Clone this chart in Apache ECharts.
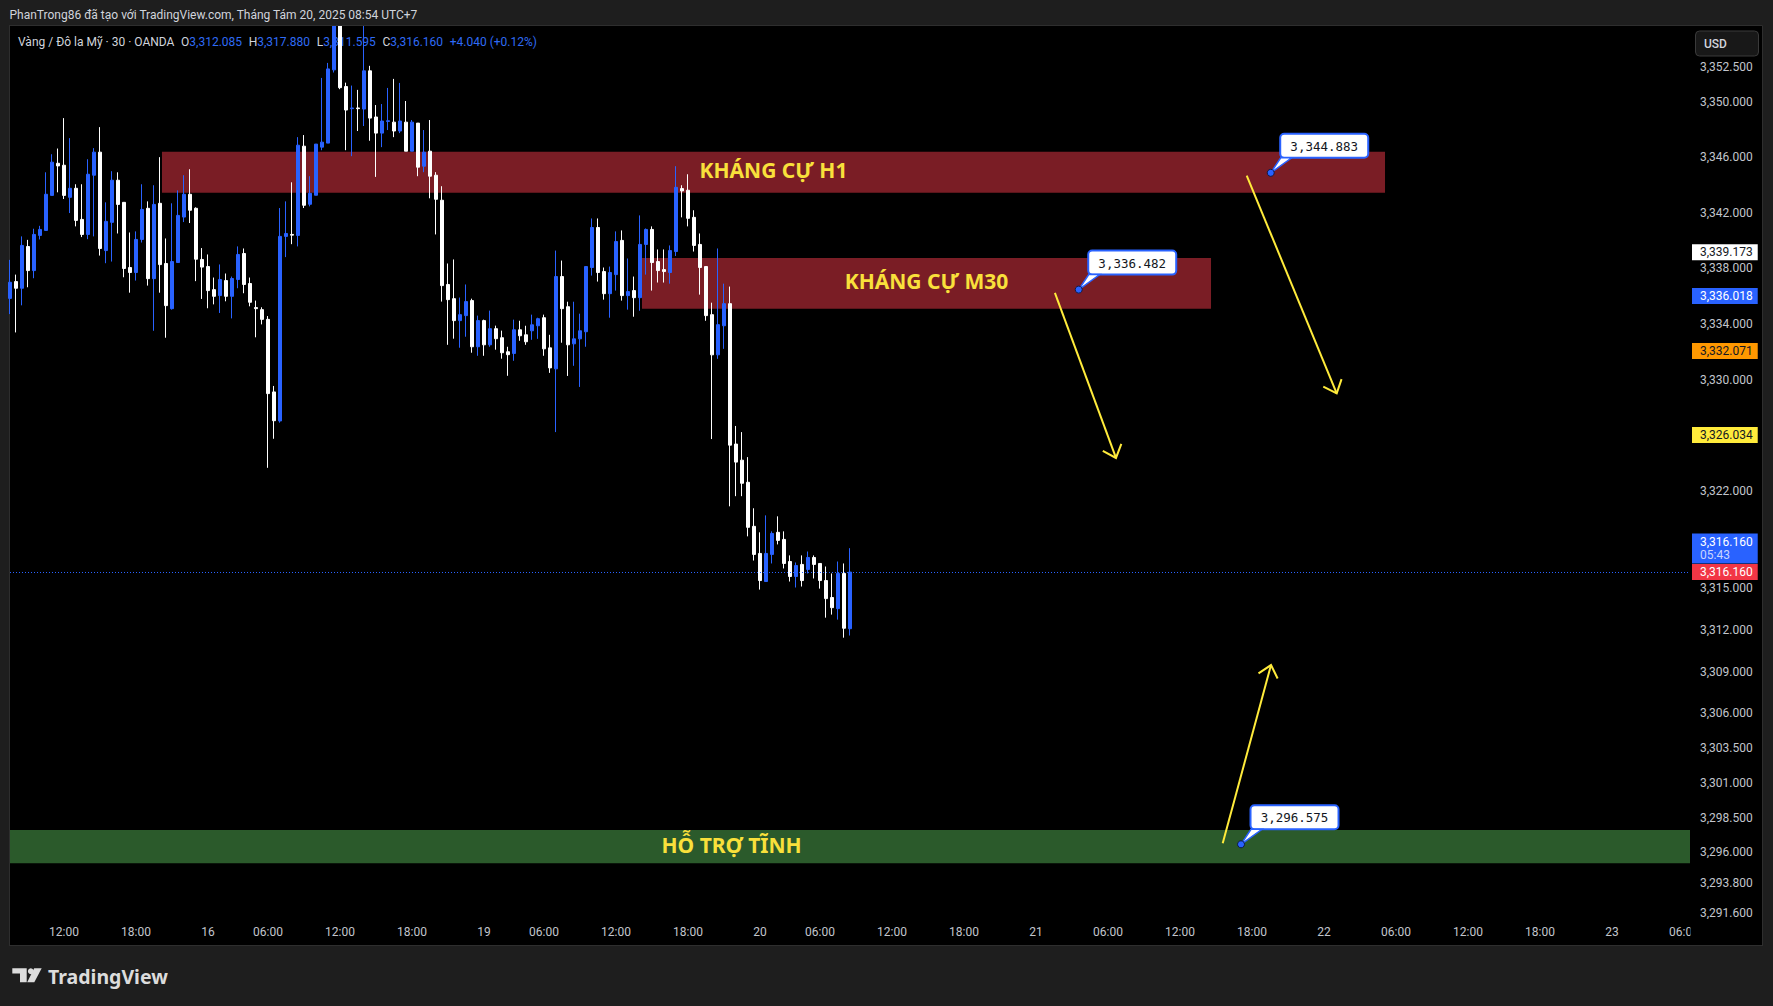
<!DOCTYPE html>
<html><head><meta charset="utf-8">
<script src="https://cdn.jsdelivr.net/npm/echarts@6/dist/echarts.min.js"></script>
<style>
html,body{margin:0;padding:0;background:#1e1e1e;overflow:hidden;}
#pane{position:absolute;left:9px;top:25px;width:1752px;height:919px;background:#000;border:1px solid #2e2e2e;}
#c{position:absolute;left:0;top:0;width:1773px;height:1006px;}
</style>
</head><body><div id="pane"></div><div id="c"></div>
<script>
// ---- data (30-minute candles, XAU/USD OANDA) ----
const firstK = -9;          // first visible slot relative to 15 Aug 12:00
const lastK = 271;          // last slot of the visible time range
const opens = [
3335.85,3337.06,3336.58,3339.58,3337.85,3340.38,3340.74,3343.26,3345.57,
3345.43,3343.12,3343.77,3341.53,3340.45,3344.71,3346.37,3339.29,3341.32,3344.35,
3342.76,3338.07,3337.71,3340.09,3342.33,3337.27,3342.69,3338.36,3335.11,3338.43,
3341.70,3343.34,3342.33,3338.65,3338.14,3336.48,3336.05,3337.13,3336.00,3337.21,
3339.08,3336.92,3335.19,3335.04,3334.34,3329.12,3327.03,3340.31,3340.45,3340.38,
3346.80,3342.62,3343.27,3346.73,3347.02,3352.29,3356.40,3351.09,3349.50,3349.55,
3349.47,3352.22,3348.90,3347.74,3348.58,3348.53,3347.89,3348.53,3346.44,3348.46,
3345.36,3346.44,3344.71,3342.91,3336.85,3335.83,3334.25,3334.61,3335.69,3332.37,
3334.25,3332.51,3333.67,3333.02,3332.01,3331.89,3333.59,3333.23,3333.52,3333.88,
3334.46,3332.29,3330.78,3337.42,3335.25,3332.58,3332.94,3333.45,3338.07,3340.95,
3337.78,3336.19,3337.56,3340.02,3336.05,3336.41,3335.90,3339.73,3340.81,3338.50,
3337.92,3337.71,3339.22,3343.75,3343.63,3341.68,3339.73,3338.14,3334.68,3331.79,
3333.88,3335.47,3325.37,3324.21,3322.62,3319.45,3317.50,3315.48,3317.43,3319.02,
3318.51,3316.92,3315.84,3316.71,3316.35,3317.21,3316.78,3315.55,3314.33,3313.53,
3316.06,3312.085
];
const closes = [
3337.01,3336.58,3339.66,3337.85,3340.45,3340.81,3343.34,3345.65,3345.38,
3343.26,3343.77,3341.46,3340.45,3344.78,3346.37,3339.44,3341.39,3344.35,3342.61,
3338.00,3337.71,3340.09,3342.25,3337.27,3342.61,3338.28,3335.33,3338.50,3341.82,
3343.34,3342.19,3338.67,3338.10,3336.41,3336.00,3337.21,3336.00,3337.28,3339.01,
3336.85,3335.57,3335.11,3334.34,3329.00,3327.05,3340.31,3340.52,3340.40,3346.87,
3342.55,3343.41,3346.95,3347.09,3352.36,3356.60,3351.01,3349.40,3349.55,3349.50,
3352.22,3348.82,3347.74,3348.61,3348.63,3347.89,3348.61,3346.44,3348.53,3345.29,
3346.37,3344.64,3342.98,3336.77,3335.76,3334.25,3334.68,3335.62,3332.37,3334.25,
3332.51,3333.67,3332.95,3331.94,3331.80,3333.59,3333.16,3332.73,3333.95,3334.39,
3332.22,3330.85,3337.42,3335.11,3332.51,3332.94,3333.52,3338.14,3340.95,3337.71,
3336.19,3337.71,3339.94,3336.05,3336.34,3335.90,3339.73,3340.81,3338.43,3337.85,
3337.78,3339.29,3343.84,3343.58,3341.61,3339.66,3338.07,3334.61,3331.79,3333.96,
3335.47,3325.29,3324.07,3322.55,3319.38,3317.43,3315.55,3317.50,3318.94,3318.44,
3316.78,3315.84,3316.63,3315.55,3317.21,3316.71,3315.55,3314.25,3313.60,3316.06,
3312.12,3316.160
];
const lows = [
3334.72,3333.40,3335.35,3336.65,3337.30,3340.09,3340.74,3343.26,3343.48,
3343.00,3341.99,3341.03,3340.26,3340.11,3340.31,3338.93,3338.38,3338.50,3340.52,
3337.37,3336.26,3337.13,3339.87,3336.77,3333.52,3336.26,3333.02,3335.04,3338.43,
3341.34,3341.27,3337.09,3335.81,3335.14,3335.42,3334.80,3335.64,3334.41,3336.58,
3336.22,3335.28,3333.05,3333.98,3323.66,3325.75,3326.91,3338.82,3339.75,3339.59,
3342.35,3342.47,3343.27,3346.51,3347.02,3352.10,3350.90,3346.51,3346.08,3347.89,
3348.25,3347.19,3344.59,3346.73,3347.96,3347.45,3347.74,3346.44,3346.44,3344.64,
3344.93,3343.05,3340.45,3335.62,3332.51,3332.95,3332.30,3333.09,3331.94,3331.72,
3331.72,3332.37,3332.16,3331.51,3330.28,3331.36,3332.80,3332.51,3332.87,3332.94,
3331.72,3330.49,3326.23,3332.66,3330.27,3331.00,3329.48,3332.37,3337.49,3337.06,
3335.76,3334.46,3336.41,3335.69,3335.04,3334.53,3334.96,3337.56,3336.41,3336.99,
3336.99,3336.91,3338.90,3341.68,3341.03,3339.22,3336.12,3334.24,3325.73,3331.50,
3332.22,3320.89,3321.62,3321.62,3318.73,3316.99,3314.90,3315.48,3316.78,3318.15,
3316.42,3315.48,3315.05,3315.12,3316.06,3315.70,3314.97,3312.88,3313.10,3312.74,
3311.44,3311.595
];
const highs = [
3338.62,3337.56,3340.31,3340.06,3340.86,3341.07,3344.92,3346.22,3346.63,
3348.82,3347.38,3344.06,3344.06,3345.86,3346.66,3348.17,3342.76,3345.00,3344.92,
3342.76,3340.59,3340.67,3344.06,3342.83,3343.99,3346.01,3340.16,3342.69,3343.62,
3344.71,3345.14,3342.40,3339.47,3339.01,3337.35,3338.29,3337.64,3337.42,3339.59,
3339.44,3337.35,3335.69,3335.21,3334.58,3329.55,3342.35,3342.83,3344.20,3347.45,
3347.60,3344.64,3346.95,3351.71,3352.79,3357.20,3357.00,3351.37,3351.16,3350.85,
3356.00,3352.58,3349.76,3349.83,3350.99,3351.64,3351.35,3350.05,3348.68,3348.46,
3347.96,3348.68,3344.93,3343.92,3338.36,3338.65,3335.91,3336.85,3335.83,3334.61,
3334.32,3334.97,3333.89,3333.53,3332.37,3334.32,3334.24,3333.88,3334.68,3334.46,
3334.68,3333.23,3339.29,3338.57,3335.61,3335.61,3334.75,3338.14,3341.60,3341.60,
3338.07,3338.14,3340.67,3340.74,3338.72,3337.42,3341.82,3340.88,3341.03,3339.37,
3339.37,3339.66,3345.36,3343.99,3344.78,3342.19,3340.52,3338.14,3335.54,3339.44,
3336.91,3336.70,3326.67,3326.23,3324.43,3320.75,3319.02,3320.24,3319.09,3320.17,
3319.09,3317.36,3316.85,3317.36,3317.64,3317.36,3316.78,3316.56,3316.06,3316.92,
3316.78,3317.880
];
const timeTickK = [0,12,24,34,46,58,70,80,92,104,116,126,138,150,162,174,186,198,210,222,234,246,258,270];
const timeTickText = ['12:00','18:00','16','06:00','12:00','18:00','19','06:00','12:00','18:00','20','06:00','12:00','18:00','21','06:00','12:00','18:00','22','06:00','12:00','18:00','23','06:00'];
const priceTicks = [3352.5,3350,3346,3342,3338,3334,3330,3322,3315,3312,3309,3306,3303.5,3301,3298.5,3296,3293.8,3291.6];
const zoneNames = ['KHÁNG CỰ H1','KHÁNG CỰ M30','HỖ TRỢ TĨNH'];
const zoneStartK = [16.33, 96.33, -60];
const zoneEndK = [220.17, 191.17, 282.53];
const zoneTop = [3346.40, 3338.76, 3297.60];
const zoneBottom = [3343.45, 3335.11, 3295.21];
const arrowStartK = [197.12, 165.15, 193.12];
const arrowStartPrice = [3344.68, 3336.24, 3296.65];
const arrowEndK = [212.12, 175.33, 201.17];
const arrowEndPrice = [3329.02, 3324.37, 3309.47];
const calloutK = [201.12, 169.12, 196.17];
const calloutPrice = [3344.883, 3336.482, 3296.575];
const tagPrices = [3339.173, 3336.018, 3332.071, 3326.034];
const countdown = '05:43';
const headerText = 'PhanTrong86 đã tạo với TradingView.com, Tháng Tám 20, 2025 08:54 UTC+7';
const symbolText = 'Vàng / Đô la Mỹ · 30 · OANDA';

// ---- styles ----
const UP = '#2962ff', DOWN = '#ffffff';
const zoneFill = ['#7a1d25', '#7a1d25', '#2b5a2b'];
const tagStyle = [
  {bg:'#ffffff', fg:'#131722'},
  {bg:'#2962ff', fg:'#ffffff'},
  {bg:'#ff9800', fg:'#131722'},
  {bg:'#ffeb3b', fg:'#131722'}
];
const AXIS_TEXT = '#c2c5cc';
const FRAME = '#1e1e1e';

function fmt(v){
  const s = Number(v).toFixed(3);
  const parts = s.split('.');
  return parts[0].replace(/\B(?=(\d{3})+(?!\d))/g, ',') + '.' + parts[1];
}

const categories = [];
for (let k = firstK; k <= lastK; k++) categories.push(String(k));
const candleData = opens.map((o, i) => [o, closes[i], lows[i], highs[i]]);
const n = opens.length;
const lastO = opens[n-1], lastC = closes[n-1], lastL = lows[n-1], lastH = highs[n-1];
const prevC = closes[n-2];
const chg = lastC - prevC;
const chgPct = chg / prevC * 100;
const tickMap = {};
timeTickK.forEach((k, i) => { tickMap[k] = timeTickText[i]; });

const chart = echarts.init(document.getElementById('c'), null, {renderer:'svg'});

const tagLabel = (bg, fg, text, extra) => Object.assign({
  show:true, position:'end', distance:2, formatter:text,
  backgroundColor:bg, color:fg, padding:[2,5,1,8], fontSize:12, lineHeight:13,
  fontFamily:'Roboto'
}, extra || {});
const HIDDEN_LINE = {color:'rgba(0,0,0,0)', width:1, type:'solid'};

const markLineData = [];
tagPrices.forEach((p, i) => {
  markLineData.push({yAxis:p, lineStyle:HIDDEN_LINE, label:tagLabel(tagStyle[i].bg, tagStyle[i].fg, fmt(p))});
});
markLineData.push({yAxis:lastC, lineStyle:HIDDEN_LINE,
  label:tagLabel('#2962ff', '#ffffff', '{a|' + fmt(lastC) + '}\n{b|' + countdown + '}',
    {offset:[0,-23.5], padding:[2,5,2,8], rich:{a:{color:'#ffffff', fontSize:12, lineHeight:13, fontFamily:'Roboto'}, b:{color:'#c9d6ff', fontSize:12, lineHeight:13, fontFamily:'Roboto'}}})});
markLineData.push({yAxis:lastC, lineStyle:{color:'#2962ff', type:[1,2], width:1},
  label:tagLabel('#f23645', '#ffffff', fmt(lastC))});

const option = {
  backgroundColor:'transparent',
  animation:false,
  grid:{left:10, right:83, top:27, bottom:88, containLabel:false},
  xAxis:[
    {type:'category', data:categories, boundaryGap:false,
     axisLine:{show:false}, axisTick:{show:false}, splitLine:{show:false},
     axisLabel:{
       interval:(idx) => tickMap[idx + firstK] !== undefined,
       formatter:(val) => tickMap[Number(val)] || '',
       color:AXIS_TEXT, fontSize:12, fontFamily:'Roboto', margin:8
     }},
    {type:'value', min:firstK, max:lastK, show:false}
  ],
  yAxis:[{
    type:'value', position:'right', min:3291.273, max:3355.374,
    splitLine:{show:false}, axisLine:{show:false}, axisTick:{show:false},
    axisLabel:{customValues:priceTicks, formatter:(v) => fmt(v), color:AXIS_TEXT, fontSize:12, fontFamily:'Roboto', margin:10}
  }],
  series:[
    {
      name:'zones', type:'custom', xAxisIndex:1, yAxisIndex:0, z:1, silent:true,
      data:zoneNames.map((nm, i) => [zoneStartK[i], zoneEndK[i], zoneTop[i], zoneBottom[i], i]),
      encode:{x:[0,1], y:[2,3]},
      renderItem:(params, api) => {
        const p1 = api.coord([api.value(0), api.value(2)]);
        const p2 = api.coord([api.value(1), api.value(3)]);
        const cs = params.coordSys;
        const i = api.value(4);
        const rect = echarts.graphic.clipRectByRect(
          {x:p1[0], y:p1[1], width:p2[0]-p1[0], height:p2[1]-p1[1]},
          {x:cs.x, y:cs.y, width:cs.width, height:cs.height});
        const children = [];
        if (rect) children.push({type:'rect', shape:rect, style:{fill:zoneFill[i]}});
        children.push({type:'text', x:(p1[0]+p2[0])/2, y:(p1[1]+p2[1])/2 - 2,
          style:{text:zoneNames[i], fill:'#f9e03b', fontSize:21, fontWeight:'bold', fontFamily:'Noto Sans', align:'center', verticalAlign:'middle'}});
        return {type:'group', children};
      }
    },
    {
      name:'XAUUSD', type:'candlestick', xAxisIndex:0, yAxisIndex:0, z:3,
      data:candleData, barWidth:4, clip:true,
      itemStyle:{color:UP, color0:DOWN, borderColor:UP, borderColor0:DOWN, borderColorDoji:DOWN, borderWidth:1},
      markLine:{symbol:['none','none'], silent:true, animation:false, data:markLineData}
    },
    {
      name:'arrows', type:'custom', xAxisIndex:1, yAxisIndex:0, z:5, silent:true,
      data:arrowStartK.map((k, i) => [k, arrowStartPrice[i], arrowEndK[i], arrowEndPrice[i]]),
      encode:{x:[0,2], y:[1,3]},
      renderItem:(params, api) => {
        const a = api.coord([api.value(0), api.value(1)]);
        const b = api.coord([api.value(2), api.value(3)]);
        const ang = Math.atan2(a[1]-b[1], a[0]-b[0]);
        const L = 15, sp = 0.72;
        const w1 = [b[0] + L*Math.cos(ang+sp), b[1] + L*Math.sin(ang+sp)];
        const w2 = [b[0] + L*Math.cos(ang-sp), b[1] + L*Math.sin(ang-sp)];
        const st = {stroke:'#ffeb3b', lineWidth:2, fill:null};
        return {type:'group', children:[
          {type:'polyline', shape:{points:[a, b]}, style:st},
          {type:'polyline', shape:{points:[w1, b, w2]}, style:st}
        ]};
      }
    },
    {
      name:'callouts', type:'custom', xAxisIndex:1, yAxisIndex:0, z:6, silent:true,
      data:calloutK.map((k, i) => [k, calloutPrice[i]]),
      encode:{x:0, y:1},
      renderItem:(params, api) => {
        const p = api.coord([api.value(0), api.value(1)]);
        const bx = p[0] + 9.5, by = p[1] - 39, bw = 88, bh = 24;
        return {type:'group', children:[
          {type:'rect', shape:{x:bx, y:by, width:bw, height:bh, r:4}, style:{fill:'#ffffff', stroke:'#2962ff', lineWidth:2}},
          {type:'polygon', shape:{points:[[p[0], p[1]], [p[0]+10, p[1]-15], [p[0]+21, p[1]-15]]}, style:{fill:'#ffffff', stroke:'#2962ff', lineWidth:1.5}},
          {type:'text', x:bx + bw/2, y:by + bh/2 + 0.5, style:{text:fmt(api.value(1)), fill:'#131722', fontSize:12.5, fontFamily:'DejaVu Sans Mono', align:'center', verticalAlign:'middle'}},
          {type:'circle', shape:{cx:p[0], cy:p[1], r:3.5}, style:{fill:'#2962ff', stroke:'#0d1b4a', lineWidth:1}}
        ]};
      }
    }
  ],
  graphic:[
    {type:'text', x:18, y:42, z:0, style:{
      text:'{g|' + symbolText + '}  {g|O}{b|' + fmt(lastO) + '}  {g|H}{b|' + fmt(lastH) + '}  {g|L}{b|' + fmt(lastL) + '}  {g|C}{b|' + fmt(lastC) + '}  {b|' + (chg >= 0 ? '+' : '') + chg.toFixed(3) + ' (' + (chg >= 0 ? '+' : '') + chgPct.toFixed(2) + '%)}',
      verticalAlign:'middle',
      rich:{g:{fill:'#d1d4dc', fontSize:12, fontFamily:'Roboto'}, b:{fill:'#2f6bf5', fontSize:12, fontFamily:'Roboto'}}
    }},
    // frame band above the pane (hides wicks that run past the top of the pane)
    {type:'rect', z:100, shape:{x:0, y:0, width:1773, height:25.5}, style:{fill:FRAME}},
    {type:'line', z:100, shape:{x1:9, y1:25.5, x2:1762, y2:25.5}, style:{stroke:'#2e2e2e', lineWidth:1}},
    {type:'text', z:101, x:9.5, y:14.5, style:{text:headerText, fill:'#d1d4dc', fontSize:12, fontFamily:'Roboto', verticalAlign:'middle'}},
    {type:'rect', z:100, shape:{x:1690.5, y:919, width:71, height:25}, style:{fill:'#000000'}},
    {type:'rect', z:100, shape:{x:1695.5, y:31, width:63, height:25, r:4}, style:{fill:'#181818', stroke:'#3a3a3a', lineWidth:1}},
    {type:'text', z:101, x:1704, y:44, style:{text:'USD', fill:'#d1d4dc', fontSize:12, fontWeight:500, fontFamily:'Roboto', verticalAlign:'middle'}},
    {type:'polygon', z:100, shape:{points:[[12.3,968.3],[26.7,968.3],[26.7,982.3],[20,982.3],[20,973.6],[12.3,973.6]]}, style:{fill:'#dcdcdc'}},
    {type:'circle', z:100, shape:{cx:30.8, cy:971.2, r:2.9}, style:{fill:'#dcdcdc'}},
    {type:'polygon', z:100, shape:{points:[[34.2,968.3],[41.7,968.3],[34.3,982.3],[27.2,982.3]]}, style:{fill:'#dcdcdc'}},
    {type:'text', z:100, x:48, y:976, style:{text:'TradingView', fill:'#dcdcdc', fontSize:19.5, fontWeight:'bold', fontFamily:'Noto Sans', verticalAlign:'middle'}}
  ]
};
chart.setOption(option);
</script>
</body></html>
